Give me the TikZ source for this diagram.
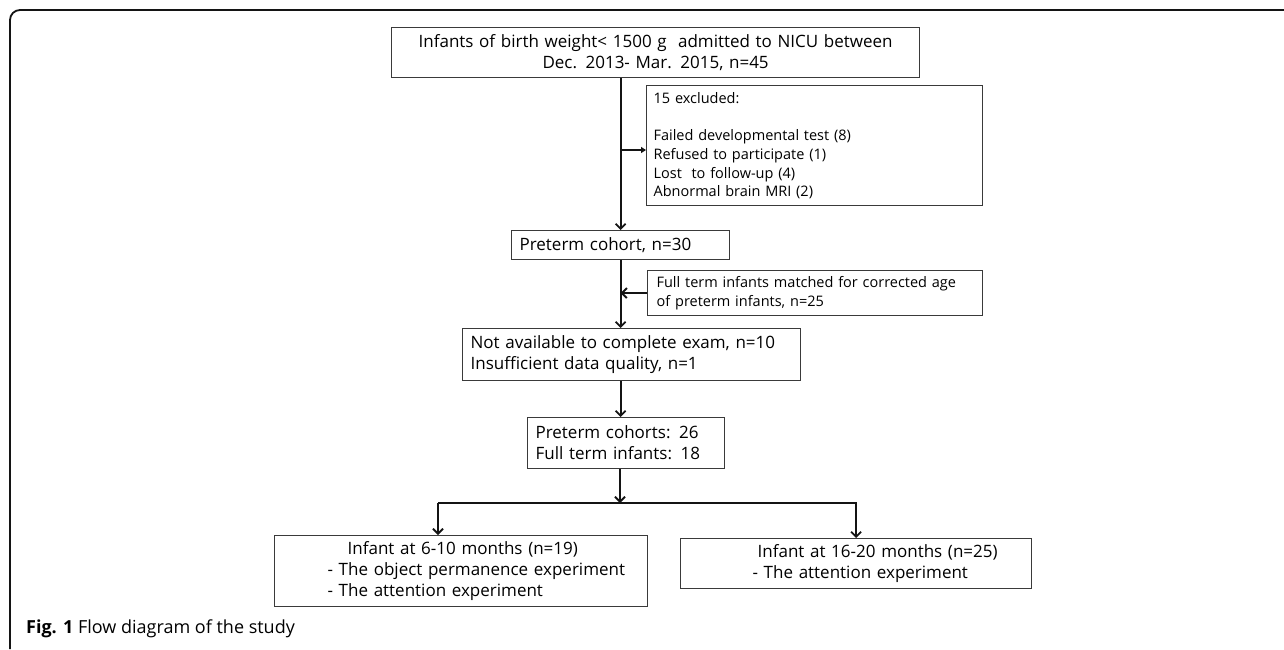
\documentclass[tikz,border=0pt]{standalone}
\usepackage{fontspec}
\setmainfont{Open Sans}
\usetikzlibrary{arrows.meta,positioning}
\definecolor{boxgray}{HTML}{3A3A3A}
\definecolor{inkblack}{HTML}{141414}
\tikzset{
 flowbox/.style={draw=boxgray,line width=1.2pt,anchor=north west,inner ysep=0pt,inner xsep=8pt,align=left,font=\fontsize{17}{21}\selectfont},
 smallbox/.style={flowbox,font=\fontsize{14.5}{18.7}\selectfont},
 flowline/.style={draw=inkblack,line width=1.8pt}
}
\begin{document}
\begin{tikzpicture}[x=1pt,y=-1pt,>={Straight Barb[length=5pt,width=10pt]}]
\useasboundingbox (0,0) rectangle (1284,649);
\draw[inkblack,line width=1.8pt,rounded corners=10pt] (1284,10)--(10,10)--(10,649);
\node[flowbox,align=center,text width=512pt,minimum height=50pt] (intake) at (391,27) {Infants of birth weight< 1500 g\ \ admitted to NICU between\\Dec. 2013- Mar. 2015, n=45};
\node[smallbox,inner xsep=7pt,text width=322pt,minimum height=120pt] (excl) at (646,85) {15 excluded:\\[18.7pt]Failed developmental test (8)\\Refused to participate (1)\\Lost\ \ to follow-up (4)\\Abnormal brain MRI (2)};
\node[flowbox,text width=202pt,minimum height=29pt] (cohort) at (511,230) {Preterm cohort, n=30};
\node[smallbox,inner xsep=9pt,text width=317pt,minimum height=45pt] (match) at (647,270) {Full term infants matched for corrected age\\of preterm infants, n=25};
\node[flowbox,text width=322pt,minimum height=52pt] (drop) at (462,328) {Not available to complete exam, n=10\\Insufficient data quality, n=1};
\node[flowbox,text width=181pt,minimum height=51pt] (total) at (527,417) {Preterm cohorts: 26\\Full term infants: 18};
\node[flowbox,inner xsep=0pt,text width=373pt,minimum height=71pt] (young) at (274,535) {\hspace*{73pt}Infant at 6-10 months (n=19)\\\hspace*{53pt}- The object permanence experiment\\\hspace*{53pt}- The attention experiment};
\node[flowbox,inner xsep=0pt,text width=351pt,minimum height=50pt] (older) at (680,538) {\hspace*{77pt}Infant at 16-20 months (n=25)\\\hspace*{72pt}- The attention experiment};
\node[anchor=west,inner sep=0pt,font=\fontsize{18}{22}\selectfont] (caption) at (26,629) {\textbf{Fig. 1} Flow diagram of the study};
\coordinate (branch) at (620,150);
\coordinate (split) at (620,503);
\coordinate (lefttap) at (438,503);
\draw[flowline,->] (intake.south -| cohort.north)--(cohort.north);
\draw[flowline,-{Triangle[length=5pt,width=6pt]}] (branch)--(branch -| excl.west);
\draw[flowline,->] (cohort.south)--(cohort.south |- drop.north);
\draw[flowline,->] (match.west)--(match.west -| cohort.south);
\draw[flowline,->] (cohort.south |- drop.south)--(cohort.south |- total.north);
\draw[flowline,->] (total.south -| split)--(split);
\draw[flowline] (lefttap)--(split);
\draw[flowline,->] (lefttap)--(lefttap |- young.north);
\draw[flowline,->] (split)-|(older.north);
\end{tikzpicture}
\end{document}
